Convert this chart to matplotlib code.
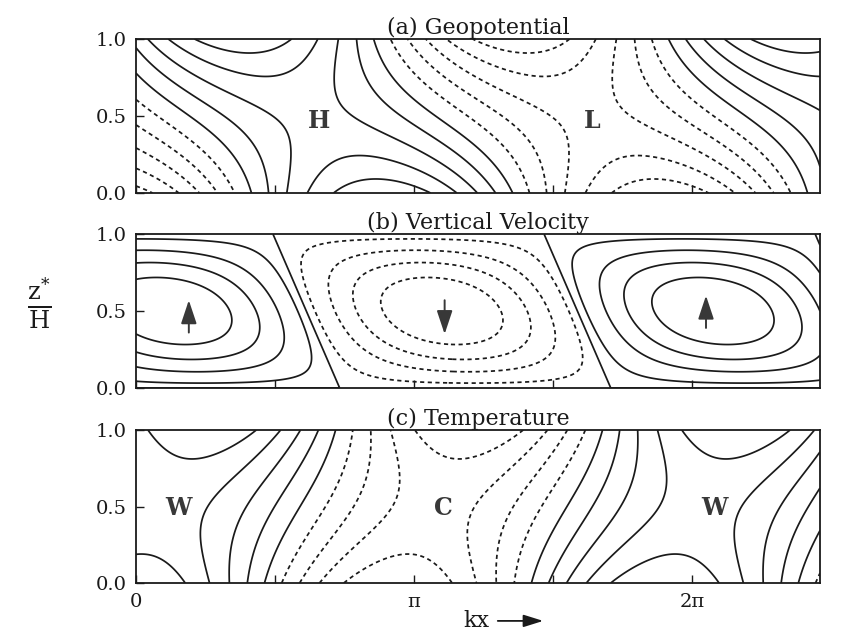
import numpy as np
import matplotlib
matplotlib.use('Agg')
import matplotlib.pyplot as plt

# ---------------- data ----------------
panel_titles = ['(a) Geopotential', '(b) Vertical Velocity', '(c) Temperature']
x_ticks = [0.0, 0.5 * np.pi, np.pi, 1.5 * np.pi, 2.0 * np.pi]
x_ticklabels = ['0', '', 'π', '', '2π']
y_ticks = [0.0, 0.5, 1.0]
y_ticklabels = ['0.0', '0.5', '1.0']
x_max = 2.46 * np.pi

# Eady-wave structure parameters (estimated from the contours)
mu = 1.61                      # vertical decay parameter
b_coef = -1.5                  # sinh-part coefficient (sets phase tilt)
wavelength_a = 2.0 * np.pi
wavelength_b = 1.95 * np.pi
wavelength_c = 1.92 * np.pi
ridge_mid_a = 0.635 * np.pi    # mid-level ridge position (H)
ridge_mid_c = 0.59 * np.pi     # ridge position used for temperature
w_center_mid = 1.10 * np.pi    # mid-level downdraft centre
w_tilt = 0.24 * np.pi          # westward shift of w pattern, bottom -> top

geo_levels = [-1.62, -1.26, -0.9, -0.54, -0.18, 0.18, 0.54, 0.9, 1.26, 1.62]
w_levels = [-0.775, -0.55, -0.325, -0.1, 0.0, 0.1, 0.325, 0.55, 0.775]
t_levels = [-2.85, -2.1375, -1.425, -0.7125, 0.0, 0.7125, 1.425, 2.1375, 2.85]

label_text = [['H', 'L'], [], ['W', 'C', 'W']]
label_x = [[0.657 * np.pi, 1.641 * np.pi], [], [0.154 * np.pi, 1.104 * np.pi, 2.08 * np.pi]]
label_z = [[0.47, 0.47], [], [0.49, 0.49, 0.49]]

arrow_x = [0.19 * np.pi, 1.11 * np.pi, 2.05 * np.pi]
arrow_z0 = [0.36, 0.57, 0.39]
arrow_z1 = [0.57, 0.35, 0.60]

# ---------------- figure ----------------
plt.rcParams['font.family'] = ['DejaVu Serif']
plt.rcParams['mathtext.fontset'] = 'dejavuserif'

fig = plt.figure(figsize=(8.41, 6.31), dpi=100)
W, Hh = 841.0, 631.0
left, right = 136 / W, 820 / W
tops = [39, 234, 430]
bots = [193, 388, 583]
axes = []
for t, b in zip(tops, bots):
    axes.append(fig.add_axes([left, 1 - b / Hh, right - left, (b - t) / Hh]))

x = np.linspace(0, x_max, 700)
z = np.linspace(0, 1, 300)
X, Z = np.meshgrid(x, z)
S = Z - 0.5

# (a) geopotential
ua = 2 * np.pi / wavelength_a * (X - ridge_mid_a)
phi = np.cosh(mu * S) * np.cos(ua) + b_coef * np.sinh(mu * S) * np.sin(ua)
# (b) vertical velocity
xd = w_center_mid - w_tilt * S
wv = -np.sin(np.pi * Z) * np.cos(2 * np.pi / wavelength_b * (X - xd))
# (c) temperature (d phi / dz)
uc = 2 * np.pi / wavelength_c * (X - ridge_mid_c)
temp = mu * (np.sinh(mu * S) * np.cos(uc) + b_coef * np.cosh(mu * S) * np.sin(uc))

fields = [(phi, geo_levels), (wv, w_levels), (temp, t_levels)]
dash = (0, (2.4, 2.0))
ink = '#1a1a1a'

for i, (ax, (F, lev)) in enumerate(zip(axes, fields)):
    styles = [dash if l < 0 else 'solid' for l in lev]
    cs = ax.contour(X, Z, F, levels=lev, colors=ink, linewidths=1.25)
    cs.set_linestyle(styles)
    ax.set_xlim(0, x_max)
    ax.set_ylim(0, 1)
    ax.set_xticks(x_ticks)
    ax.set_yticks(y_ticks)
    ax.set_yticklabels(y_ticklabels)
    if i == 2:
        ax.set_xticklabels(x_ticklabels)
    else:
        ax.set_xticklabels([''] * len(x_ticks))
    ax.tick_params(direction='in', length=6, width=1.0, labelsize=14, pad=7,
                   top=False, right=False, colors=ink)
    for sp in ax.spines.values():
        sp.set_linewidth(1.3)
        sp.set_color(ink)
    ax.set_title(panel_titles[i], fontsize=16, pad=3, color=ink)
    for txt, lx, lz in zip(label_text[i], label_x[i], label_z[i]):
        ax.text(lx, lz, txt, fontsize=17, fontweight='bold', ha='center',
                va='center', color='#383838')

axb = axes[1]
for xa, z0, z1 in zip(arrow_x, arrow_z0, arrow_z1):
    axb.annotate('', xy=(xa, z1), xytext=(xa, z0),
                 arrowprops=dict(arrowstyle='-|>,head_length=0.9,head_width=0.3',
                                 mutation_scale=16, color='#383838', lw=1.4,
                                 shrinkA=0, shrinkB=0))

fig.text(0.047, 0.52, r'$\frac{\mathrm{z}^{*}}{\mathrm{H}}$', fontsize=25,
         ha='center', va='center', color=ink)
fig.text(0.566, 0.016, 'kx', fontsize=16, ha='center', va='center', color=ink)
fig.add_artist(matplotlib.patches.FancyArrowPatch(
    (495 / W, 0.016), (546 / W, 0.016), transform=fig.transFigure,
    arrowstyle='-|>,head_length=0.8,head_width=0.25', color=ink, lw=1.3,
    mutation_scale=15))

fig.savefig('out.png', dpi=100, facecolor='white')
